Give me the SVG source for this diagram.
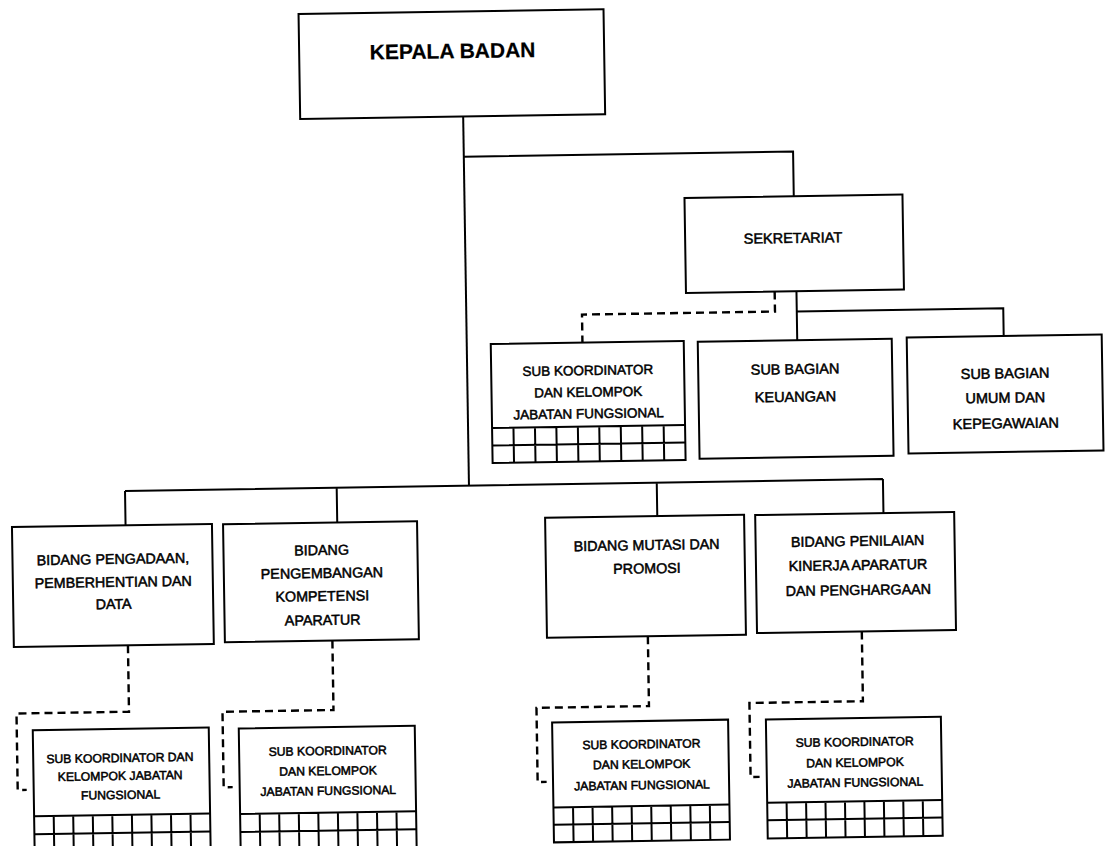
<svg xmlns="http://www.w3.org/2000/svg" width="1112" height="846" viewBox="0 0 1112 846">
<style>
.box{fill:#fff;stroke:#000;stroke-width:2}
.grid{fill:none;stroke:#000;stroke-width:2}
.ln{fill:none;stroke:#000;stroke-width:2}
.dash{fill:none;stroke:#000;stroke-width:2.4;stroke-dasharray:8 5}
text{font-family:"Liberation Sans",Arial,sans-serif;fill:#000;text-anchor:middle;stroke:#000;stroke-width:0.5}
.t1{font-size:21px;font-weight:bold;stroke-width:0.2}
.t2{font-size:14.5px}
.t3{font-size:14.3px}
.t4{font-size:13.5px}
.t5{font-size:12.2px}
</style>
<rect width="1112" height="846" fill="#fff"/>
<g transform="rotate(-0.9 556 423)">
<g id="connectors">
<path class="ln" d="M468,115 V484.2"/>
<path class="ln" d="M468,155.3 H797.3 V200"/>
<path class="ln" d="M798.5,295 V344 M798.5,315.3 H1005 V343"/>
<path class="dash" d="M776.7,295 V315 H583.7 V343"/>
<path class="ln" d="M124,484.2 H882 M124,484.2 V518.5 M335.7,484.2 V519 M655.8,484.2 V517.6 M882,484.2 V518.2"/>
<path class="dash" d="M124.5,638.5 V705 H12 V781.5 H21"/>
<path class="dash" d="M329,637 V706.5 H218 V782 H227"/>
<path class="dash" d="M644.5,637.6 V707.5 H532 V781.7 H541"/>
<path class="dash" d="M858.5,636.2 V706 H745 V780 H754"/>
</g>
<g id="kepala">
<rect class="box" x="305" y="10" width="305" height="105"/>
<text class="t1" x="458.4" y="56.7">KEPALA BADAN</text>
</g>
<g id="sekretariat">
<rect class="box" x="688" y="200" width="218" height="95"/>
<text class="t2" x="795.8" y="246.7">SEKRETARIAT</text>
</g>
<g id="sk-sek">
<rect class="box" x="492" y="343" width="193" height="119"/>
<path class="grid" d="M492,427 H685 M492,444.5 H685 M513.4,427 V462 M534.9,427 V462 M556.3,427 V462 M577.8,427 V462 M599.2,427 V462 M620.7,427 V462 M642.1,427 V462 M663.6,427 V462"/>
<text class="t4" x="588.7" y="375.5">SUB KOORDINATOR</text>
<text class="t4" x="588.7" y="397.2">DAN KELOMPOK</text>
<text class="t4" x="588.7" y="418.8">JABATAN FUNGSIONAL</text>
</g>
<g id="keuangan">
<rect class="box" x="699" y="344" width="194" height="117"/>
<text class="t2" x="795.8" y="377.8">SUB BAGIAN</text>
<text class="t2" x="795.8" y="405.5">KEUANGAN</text>
</g>
<g id="umum">
<rect class="box" x="908" y="343" width="195" height="116"/>
<text class="t2" x="1005.7" y="385.4">SUB BAGIAN</text>
<text class="t2" x="1005.7" y="409.8">UMUM DAN</text>
<text class="t2" x="1005.7" y="435.4">KEPEGAWAIAN</text>
</g>
<g id="pengadaan">
<rect class="box" x="10.4" y="518.5" width="200" height="120"/>
<text class="t3" x="110.8" y="557">BIDANG PENGADAAN,</text>
<text class="t3" x="110.8" y="580">PEMBERHENTIAN DAN</text>
<text class="t3" x="110.8" y="602">DATA</text>
</g>
<g id="pengembangan">
<rect class="box" x="221.5" y="519" width="194" height="118"/>
<text class="t3" x="319.6" y="551.3">BIDANG</text>
<text class="t3" x="319.6" y="574.3">PENGEMBANGAN</text>
<text class="t3" x="319.6" y="597.3">KOMPETENSI</text>
<text class="t3" x="319.6" y="621.3">APARATUR</text>
</g>
<g id="mutasi">
<rect class="box" x="543.6" y="517.6" width="199" height="120"/>
<text class="t3" x="644.7" y="551.4">BIDANG MUTASI DAN</text>
<text class="t3" x="644.7" y="574.7">PROMOSI</text>
</g>
<g id="penilaian">
<rect class="box" x="753.7" y="518.2" width="199" height="118"/>
<text class="t3" x="855.7" y="550.7">BIDANG PENILAIAN</text>
<text class="t3" x="855.7" y="574.7">KINERJA APARATUR</text>
<text class="t3" x="855.7" y="599.7">DAN PENGHARGAAN</text>
</g>
<g id="sk1">
<rect class="box" x="28" y="722" width="176" height="122"/>
<path class="grid" d="M28,808 H204 M28,826 H204 M47.6,808 V844 M67.1,808 V844 M86.7,808 V844 M106.2,808 V844 M125.8,808 V844 M145.3,808 V844 M164.9,808 V844 M184.4,808 V844"/>
<text class="t5" x="114.7" y="755.2">SUB KOORDINATOR DAN</text>
<text class="t5" x="114.7" y="773.2">KELOMPOK JABATAN</text>
<text class="t5" x="114.7" y="792.2">FUNGSIONAL</text>
</g>
<g id="sk2">
<rect class="box" x="234" y="723.5" width="176" height="121.5"/>
<path class="grid" d="M234,809 H410 M234,827 H410 M253.6,809 V845 M273.1,809 V845 M292.7,809 V845 M312.2,809 V845 M331.8,809 V845 M351.3,809 V845 M370.9,809 V845 M390.4,809 V845"/>
<text class="t5" x="322.5" y="751.4">SUB KOORDINATOR</text>
<text class="t5" x="322.5" y="771.4">DAN KELOMPOK</text>
<text class="t5" x="322.5" y="791.4">JABATAN FUNGSIONAL</text>
</g>
<g id="sk3">
<rect class="box" x="547.4" y="722.3" width="176" height="120"/>
<path class="grid" d="M547.4,807.3 H723.4 M547.4,824.6 H723.4 M567,807.3 V842.3 M586.5,807.3 V842.3 M606.1,807.3 V842.3 M625.6,807.3 V842.3 M645.2,807.3 V842.3 M664.7,807.3 V842.3 M684.3,807.3 V842.3 M703.8,807.3 V842.3"/>
<text class="t5" x="636.3" y="749.7">SUB KOORDINATOR</text>
<text class="t5" x="636.3" y="769.7">DAN KELOMPOK</text>
<text class="t5" x="636.3" y="790.7">JABATAN FUNGSIONAL</text>
</g>
<g id="sk4">
<rect class="box" x="761.2" y="722.7" width="175" height="119"/>
<path class="grid" d="M761.2,806 H936.2 M761.2,823.5 H936.2 M780.6,806 V841.7 M800.1,806 V841.7 M819.5,806 V841.7 M839,806 V841.7 M858.4,806 V841.7 M877.9,806 V841.7 M897.3,806 V841.7 M916.8,806 V841.7"/>
<text class="t5" x="849.6" y="750.7">SUB KOORDINATOR</text>
<text class="t5" x="849.6" y="771.4">DAN KELOMPOK</text>
<text class="t5" x="849.6" y="791.4">JABATAN FUNGSIONAL</text>
</g>
</g>
</svg>
